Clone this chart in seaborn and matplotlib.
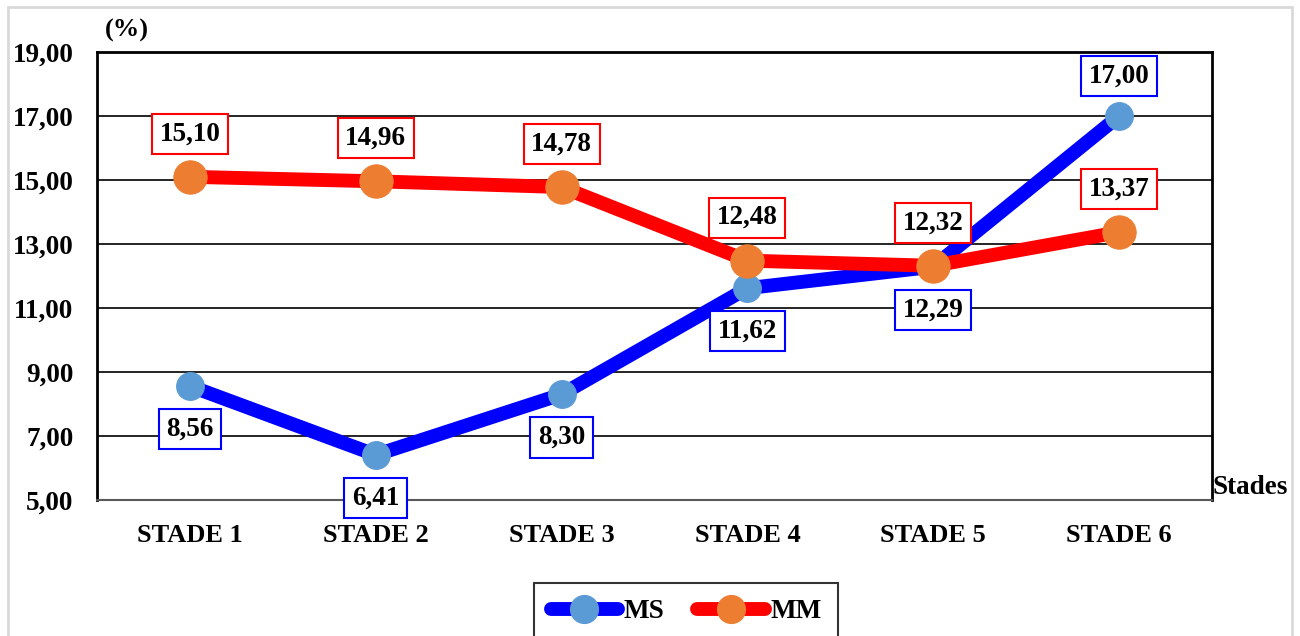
import matplotlib
matplotlib.use("Agg")
import matplotlib.pyplot as plt
import seaborn as sns
import pandas as pd
from matplotlib.patches import Rectangle
from matplotlib.lines import Line2D

stages = ["STADE 1", "STADE 2", "STADE 3", "STADE 4", "STADE 5", "STADE 6"]
ms_values = [8.56, 6.41, 8.30, 11.62, 12.29, 17.00]
mm_values = [15.10, 14.96, 14.78, 12.48, 12.32, 13.37]
ms_label_pos = ["below", "below", "below", "below", "below", "above"]
mm_label_pos = ["above", "above", "above", "above", "above", "above"]
y_ticks = [5, 7, 9, 11, 13, 15, 17, 19]

sns.set_theme(style="white")
plt.rcParams['font.family'] = ['Liberation Serif', 'DejaVu Serif']
plt.rcParams['font.weight'] = 'bold'
plt.rcParams['text.color'] = 'black'
plt.rcParams['xtick.color'] = 'black'
plt.rcParams['ytick.color'] = 'black'
plt.rcParams['axes.labelcolor'] = 'black'

fig = plt.figure(figsize=(13, 6.36), dpi=100)
ax = fig.add_axes([97/1300, 1-500/636, (1212-97)/1300, (500-52)/636])

pos = list(range(len(stages)))
df_ms = pd.DataFrame({"x": pos, "y": ms_values})
df_mm = pd.DataFrame({"x": pos, "y": mm_values})

BLUE, BLUE_M = "#0000FF", "#5B9BD5"
RED, ORANGE = "#FF0000", "#ED7D31"

sns.lineplot(data=df_ms, x="x", y="y", ax=ax, color=BLUE, linewidth=10,
             marker="o", markersize=20, markerfacecolor=BLUE_M,
             markeredgecolor=BLUE_M, zorder=3)
sns.lineplot(data=df_mm, x="x", y="y", ax=ax, color=RED, linewidth=10,
             marker="o", markersize=24, markerfacecolor=ORANGE,
             markeredgecolor=ORANGE, zorder=4)

def fmt(v):
    return f"{v:.2f}".replace(".", ",")

for xi, v, p in zip(pos, ms_values, ms_label_pos):
    off = -31 if p == "below" else 29
    ax.annotate(fmt(v), (xi, v), xytext=(0, off), textcoords="offset points",
                ha="center", va="center", fontsize=19.5, fontweight="bold",
                color="black", zorder=6,
                bbox=dict(boxstyle="square,pad=0.28", fc="white", ec=BLUE, lw=1.5))
for xi, v, p in zip(pos, mm_values, mm_label_pos):
    off = 31 if p == "above" else -31
    ax.annotate(fmt(v), (xi, v), xytext=(0, off), textcoords="offset points",
                ha="center", va="center", fontsize=19.5, fontweight="bold",
                color="black", zorder=6,
                bbox=dict(boxstyle="square,pad=0.28", fc="white", ec=RED, lw=1.5))

ax.set_xlim(-0.5, len(stages) - 0.5)
ax.set_ylim(5, 19)
ax.set_yticks(y_ticks)
ax.set_yticklabels([fmt(t) for t in y_ticks], fontsize=19.5, fontweight="bold")
ax.set_xticks(pos)
ax.set_xticklabels(stages, fontsize=19, fontweight="bold")
ax.tick_params(axis="x", length=0, pad=17)
ax.tick_params(axis="y", length=0, pad=17)
ax.set_xlabel("")
ax.set_ylabel("")
ax.yaxis.grid(True, color="black", linewidth=1.2)
ax.set_axisbelow(True)
for s in ["left", "top", "right"]:
    ax.spines[s].set_color("black")
    ax.spines[s].set_linewidth(2)
ax.spines["bottom"].set_color("#595959")
ax.spines["bottom"].set_linewidth(1.5)

fig.text(127/1300, 1-30/636, "(%)", ha="center", va="center", fontsize=19, fontweight="bold")
fig.text(1250/1300, 1-488/636, "Stades", ha="center", va="center", fontsize=19.5, fontweight="bold")

handles = [
    Line2D([0], [0], color=BLUE, lw=10, marker="o", markersize=20,
           markerfacecolor=BLUE_M, markeredgecolor=BLUE_M, solid_capstyle="round"),
    Line2D([0], [0], color=RED, lw=10, marker="o", markersize=20,
           markerfacecolor=ORANGE, markeredgecolor=ORANGE, solid_capstyle="round"),
]
leg = fig.legend(handles, ["MS", "MM"], loc="upper center",
                 bbox_to_anchor=(686/1300, 1-583/636), ncol=2, frameon=True,
                 fancybox=False, edgecolor="black", handlelength=2.5,
                 handletextpad=0.2, columnspacing=1.2, borderpad=0.6,
                 borderaxespad=0.0,
                 prop={"size": 19.5, "weight": "bold"})
leg.get_frame().set_linewidth(1.5)

fig.patches.append(Rectangle((8/1300, -0.05), (1292-8)/1300, 1.05-7/636,
                             transform=fig.transFigure, fill=False,
                             edgecolor="#D9D9D9", linewidth=2))

fig.savefig("out.png", dpi=100)
